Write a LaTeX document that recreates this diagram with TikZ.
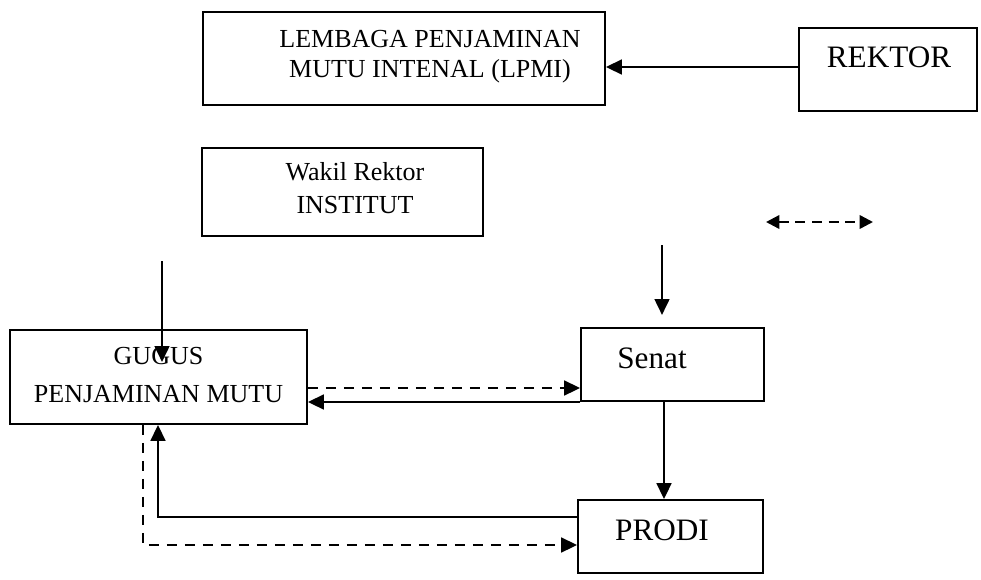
\documentclass[tikz,border=0pt]{standalone}
\usepackage{fontspec}
\setmainfont{Liberation Serif}
\usetikzlibrary{arrows.meta}
\tikzset{
  kotak/.style={draw,line width=1.3pt,inner sep=0pt},
  teks/.style={align=center,inner sep=0pt},
  panah/.style={line width=2pt,-{Triangle[length=12pt,width=11pt]}},
  putus/.style={panah,dash pattern=on 7.5pt off 6pt},
}
\begin{document}
\begin{tikzpicture}[x=0.75pt,y=-0.75pt]
\useasboundingbox (0,0) rectangle (981,579);
% kotak-kotak
\node[kotak,minimum width=301.5pt,minimum height=69.75pt] (lpmi) at (404,58.5) {};
\node[kotak,minimum width=133.5pt,minimum height=62.25pt] (rektor) at (888,69.5) {};
\node[kotak,minimum width=210.75pt,minimum height=66pt] (wakil) at (342.5,192) {};
\node[kotak,minimum width=222.75pt,minimum height=70.5pt] (gugus) at (158.5,377) {};
\node[kotak,minimum width=137.25pt,minimum height=54.75pt] (senat) at (672.5,364.5) {};
\node[kotak,minimum width=138.75pt,minimum height=54.75pt] (prodi) at (670.5,536.5) {};
% tulisan
\node[teks,font=\fontsize{19.5}{22.5}\selectfont] (lpmiteks) at (430,57) {LEMBAGA PENJAMINAN\\MUTU INTENAL (LPMI)};
\node[teks,font=\fontsize{19.5}{24.75}\selectfont] (wakilteks) at (355,188.5) {Wakil Rektor\\INSTITUT};
\node[teks,font=\fontsize{19.5}{28.5}\selectfont] (gugusteks) at (158.5,375.5) {GUGUS\\PENJAMINAN MUTU};
\node[teks,anchor=base,font=\fontsize{23.4}{28}\selectfont] (rektorteks) at (889,67) {REKTOR};
\node[teks,anchor=base,font=\fontsize{23.4}{28}\selectfont] (senatteks) at (652,368) {Senat};
\node[teks,anchor=base,font=\fontsize{23.4}{28}\selectfont] (proditeks) at (662,540) {PRODI};
% ujung bebas
\coordinate (w1) at (162,261);
\coordinate (w2) at (162,362);
\coordinate (s1) at (662,245);
\coordinate (s2) at (662,315);
\coordinate (k1) at (766,222);
\coordinate (k2) at (873,222);
% panah
\draw[panah] (rektor.west |- 0,67) -- (lpmi.east |- 0,67);
\draw[panah] (w1) -- (w2);
\draw[panah] (s1) -- (s2);
\draw[putus] (gugus.east |- 0,388) -- (senat.west |- 0,388);
\draw[panah] (senat.west |- 0,402) -- (gugus.east |- 0,402);
\draw[panah] (senat.south -| 664,0) -- (prodi.north -| 664,0);
\draw[panah] (prodi.west |- 0,517) -| (gugus.south -| 158,0);
\draw[putus] (gugus.south -| 143,0) |- (prodi.west |- 0,545);
\draw[line width=1.8pt,dash pattern=on 7.5pt off 5pt,{Triangle[length=10pt,width=10pt]}-{Triangle[length=10pt,width=10pt]}] (k1) -- (k2);
\end{tikzpicture}
\end{document}
